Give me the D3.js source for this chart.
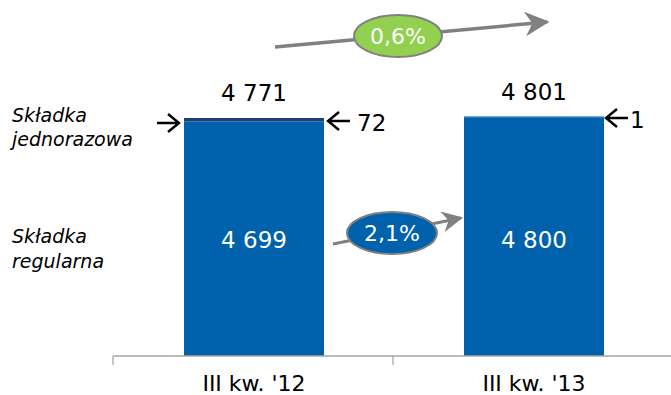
<!DOCTYPE html>
<html>
<head>
<meta charset="utf-8">
<script src="https://cdn.jsdelivr.net/npm/d3@7/dist/d3.min.js"></script>
<style>
  html, body { margin: 0; padding: 0; background: #fff; }
  svg { display: block; }
  text { font-family: "DejaVu Sans", Verdana, sans-serif; }
</style>
</head>
<body>
<svg id="chart" width="671" height="395"></svg>
<script>
// Składka regularna / jednorazowa, III kw. 2012 vs III kw. 2013
const categories = ["III kw. '12", "III kw. '13"];
const regular = [4699, 4800];
const single = [72, 1];
const totals = [4771, 4801];
const seriesNames = ["Składka jednorazowa", "Składka regularna"];
const growthTotal = "0,6%";
const growthRegular = "2,1%";

const W = 671, H = 395;
const svg = d3.select("#chart");

const x = d3.scaleBand()
  .domain(categories)
  .range([114, 674])
  .paddingInner(0.5)
  .paddingOuter(0.25);

const y = d3.scaleLinear()
  .domain([0, 5000])
  .range([356, 356 - 5000 * (238 / 4771)]);

const blue = "#0062ac";
const navy = "#1f3f78";
const lightBlue = "#5a93cf";
const grey = "#808080";
const fmt = v => d3.format(",")(v).replace(/,/g, " ");

// bars: regular part
svg.selectAll("rect.reg")
  .data(categories)
  .join("rect")
  .attr("class", "reg")
  .attr("x", d => x(d))
  .attr("width", x.bandwidth())
  .attr("y", (d, i) => y(regular[i]))
  .attr("height", (d, i) => y(0) - y(regular[i]))
  .attr("fill", blue);

// bars: single-premium part stacked on top
svg.selectAll("rect.single")
  .data(categories)
  .join("rect")
  .attr("class", "single")
  .attr("x", d => x(d))
  .attr("width", x.bandwidth())
  .attr("y", (d, i) => y(regular[i] + single[i]))
  .attr("height", (d, i) => Math.max(1, y(regular[i]) - y(regular[i] + single[i])))
  .attr("fill", (d, i) => i === 0 ? navy : lightBlue);

// x axis
const axisY = y(0);
const ax = svg.append("g");
ax.append("line")
  .attr("x1", 113).attr("x2", W)
  .attr("y1", axisY).attr("y2", axisY)
  .attr("stroke", "#a6a6a6").attr("stroke-width", 1.3);
const tickXs = [0, 1, 2].map(k => x.range()[0] - 1 + k * x.step());
ax.selectAll("line.tick")
  .data(tickXs)
  .join("line")
  .attr("class", "tick")
  .attr("x1", d => d).attr("x2", d => d)
  .attr("y1", axisY).attr("y2", axisY + 9)
  .attr("stroke", "#a6a6a6").attr("stroke-width", 1.3);
ax.selectAll("text.cat")
  .data(categories)
  .join("text")
  .attr("class", "cat")
  .attr("x", d => x(d) + x.bandwidth() / 2)
  .attr("y", 391)
  .attr("text-anchor", "middle")
  .attr("font-size", 22)
  .attr("fill", "#000")
  .text(d => d);

// totals above bars
svg.selectAll("text.total")
  .data(categories)
  .join("text")
  .attr("class", "total")
  .attr("x", d => x(d) + x.bandwidth() / 2)
  .attr("y", (d, i) => y(totals[i]) - 17)
  .attr("text-anchor", "middle")
  .attr("font-size", 23)
  .attr("fill", "#000")
  .text((d, i) => fmt(totals[i]));

// regular values inside bars
svg.selectAll("text.inner")
  .data(categories)
  .join("text")
  .attr("class", "inner")
  .attr("x", d => x(d) + x.bandwidth() / 2)
  .attr("y", 248)
  .attr("text-anchor", "middle")
  .attr("font-size", 23)
  .attr("fill", "#fff")
  .text((d, i) => fmt(regular[i]));

// pointer arrows to the single-premium slices
function pointer(xTip, yc, dir) {
  const len = 22, hw = 11, hh = 9;
  const tail = xTip - dir * len;
  svg.append("path")
    .attr("d", `M${tail},${yc}L${xTip},${yc}M${xTip - dir * hw},${yc - hh}L${xTip},${yc}L${xTip - dir * hw},${yc + hh}`)
    .attr("fill", "none").attr("stroke", "#000").attr("stroke-width", 2.4);
}
const b0 = x(categories[0]), b1 = x(categories[1]), bw = x.bandwidth();
pointer(b0 - 5, 123, 1);
pointer(b0 + bw + 4, 121, -1);
pointer(b1 + bw + 2, 118, -1);

svg.append("text").attr("x", b0 + bw + 33).attr("y", 131)
  .attr("font-size", 23).attr("fill", "#000").text(single[0]);
svg.append("text").attr("x", b1 + bw + 26).attr("y", 128)
  .attr("font-size", 23).attr("fill", "#000").text(single[1]);

// series names on the left
const nameLines = seriesNames.map(s => s.split(" "));
const nameY = [[122, 146], [243, 268]];
nameLines.forEach((lines, i) => {
  lines.forEach((l, j) => {
    svg.append("text")
      .attr("x", 12).attr("y", nameY[i][j])
      .attr("font-size", 19).attr("font-style", "italic")
      .attr("fill", "#000").text(l);
  });
});

// growth arrows with ellipse badges
svg.append("defs").append("marker")
  .attr("id", "head")
  .attr("viewBox", "0 0 10 10")
  .attr("refX", 9).attr("refY", 5)
  .attr("markerWidth", 7).attr("markerHeight", 7)
  .attr("markerUnits", "strokeWidth")
  .attr("orient", "auto")
  .append("path")
  .attr("d", "M0,0L10,5L0,10L3,5Z")
  .attr("fill", grey);

function growth(x1, y1, x2, y2, cx, cy, rx, ry, fill, label, sw) {
  svg.append("line")
    .attr("x1", x1).attr("y1", y1).attr("x2", x2).attr("y2", y2)
    .attr("stroke", grey).attr("stroke-width", sw)
    .attr("marker-end", "url(#head)");
  svg.append("ellipse")
    .attr("cx", cx).attr("cy", cy).attr("rx", rx).attr("ry", ry)
    .attr("fill", fill).attr("stroke", grey).attr("stroke-width", 2);
  svg.append("text")
    .attr("x", cx).attr("y", cy + 8)
    .attr("text-anchor", "middle")
    .attr("font-size", 22).attr("fill", "#fff")
    .text(label);
}
growth(275, 47, 547, 22, 398, 36, 44, 21, "#92d050", growthTotal, 3.5);
growth(333, 244, 461, 218, 392, 233, 45, 21, blue, growthRegular, 3);
</script>
</body>
</html>
